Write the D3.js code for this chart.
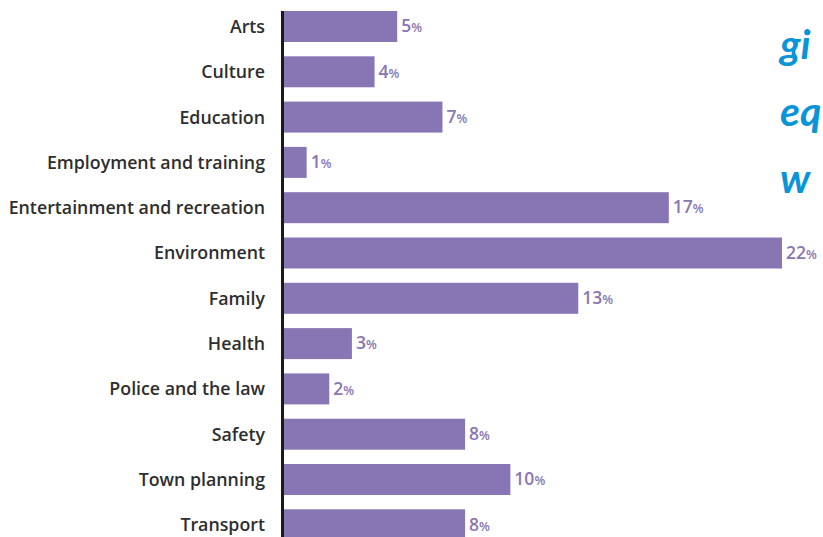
<!DOCTYPE html>
<html>
<head>
<meta charset="utf-8">
<script src="https://cdn.jsdelivr.net/npm/d3@7"></script>
<style>
  body { margin: 0; background: #fff; overflow: hidden; }
  .cat { font-family: "Open Sans", sans-serif; font-weight: 600; fill: #2e2e2e; }
  .val { font-family: "Open Sans", sans-serif; font-weight: 600; fill: #8a76b4; }
  .script { font-family: "Lato", sans-serif; font-style: italic; font-weight: bold; fill: #0a95d8; }
</style>
</head>
<body>
<div id="chart"></div>
<script>
var categories = ['Arts', 'Culture', 'Education', 'Employment and training',
                  'Entertainment and recreation', 'Environment', 'Family', 'Health',
                  'Police and the law', 'Safety', 'Town planning', 'Transport'];
var values = [5, 4, 7, 1, 17, 22, 13, 3, 2, 8, 10, 8];
var sideWords = ['gi', 'eq', 'w'];   // what is left of the handwritten note at the edge

var w = 823, h = 537;
var x0 = 284;        // left edge of bars
var barColor = '#8875b4';

var data = categories.map(function(c, i) { return {cat: c, val: values[i]}; });

var svg = d3.select('#chart').append('svg')
	.attr('width', w)
	.attr('height', h);

var xScale = d3.scaleLinear()
	.domain([0, 22])
	.range([x0, x0 + 498]);

var yScale = d3.scaleBand()
	.domain(categories)
	.range([11, 540.3])
	.paddingInner(0.316)
	.paddingOuter(0);

// bars
svg.selectAll('.bar').data(data).enter()
	.append('rect')
	.attr('class', 'bar')
	.attr('x', xScale(0))
	.attr('y', function(d) { return yScale(d.cat); })
	.attr('width', function(d) { return xScale(d.val) - xScale(0); })
	.attr('height', yScale.bandwidth())
	.attr('fill', barColor);

// vertical axis line
svg.append('line')
	.attr('x1', x0 - 1.5).attr('x2', x0 - 1.5)
	.attr('y1', 11).attr('y2', h)
	.attr('stroke', '#1a1a1a')
	.attr('stroke-width', 3);

// category labels
svg.selectAll('.cat').data(data).enter()
	.append('text')
	.attr('class', 'cat')
	.attr('x', 265)
	.attr('y', function(d) { return yScale(d.cat) + yScale.bandwidth() / 2; })
	.attr('dy', '0.36em')
	.attr('text-anchor', 'end')
	.attr('font-size', '17.8px')
	.text(function(d) { return d.cat; });

// value labels, number big and % small
var vl = svg.selectAll('.val').data(data).enter()
	.append('text')
	.attr('class', 'val')
	.attr('x', function(d) { return xScale(d.val) + 4; })
	.attr('y', function(d) { return yScale(d.cat) + yScale.bandwidth() / 2; })
	.attr('dy', '0.36em');
vl.append('tspan').attr('font-size', '17.5px').text(function(d) { return d.val; });
vl.append('tspan').attr('font-size', '12.5px').text('%');

// handwritten words on the right
svg.selectAll('.script').data(sideWords).enter()
	.append('text')
	.attr('class', 'script')
	.attr('x', 780)
	.attr('y', function(d, i) { return 59 + i * 67; })
	.attr('font-size', '41px')
	.text(function(d) { return d; });
</script>
</body>
</html>
